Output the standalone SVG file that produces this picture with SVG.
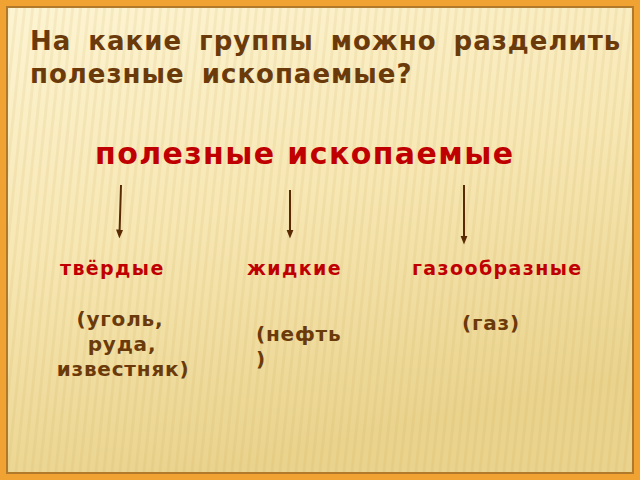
<svg xmlns="http://www.w3.org/2000/svg" width="640" height="480" viewBox="0 0 640 480">
<style>
.t{font-family:"DejaVu Sans","Verdana",sans-serif;font-weight:bold}
.h{fill:#6b3a0a;font-size:26px;letter-spacing:1px;word-spacing:7px}
.r{fill:#c00000;letter-spacing:1.4px}
.b{fill:#6b3a0a;font-size:20px;letter-spacing:0.8px}
.a{stroke:#5a2a05;stroke-width:2;fill:none}
</style>
<defs>
<linearGradient id="bg" x1="0" y1="0" x2="0.3" y2="1">
<stop offset="0" stop-color="#fdf4d2"/>
<stop offset="0.5" stop-color="#f7e7b3"/>
<stop offset="1" stop-color="#ead38d"/>
</linearGradient>
<pattern id="st" width="8" height="480" patternUnits="userSpaceOnUse" patternTransform="skewX(-6)">
<rect x="0" y="0" width="3" height="480" fill="#c9a450" opacity="0.12"/>
</pattern>
<marker id="ah" viewBox="0 0 10 10" refX="5" refY="5" markerWidth="4.5" markerHeight="4.5" orient="auto">
<path d="M0,1 L10,5 L0,9 z" fill="#5a2a05"/>
</marker>
</defs>
<rect x="0" y="0" width="640" height="480" fill="#f0a232"/>
<rect x="6" y="6" width="628" height="468" fill="#b07a2a"/>
<rect x="8" y="8" width="624" height="464" fill="url(#bg)"/>
<rect x="8" y="8" width="624" height="464" fill="url(#st)"/>
<g id="title">
<text class="t h" x="30" y="50">На какие группы можно разделить</text>
<text class="t h" x="30" y="83">полезные ископаемые?</text>
</g>
<g id="root"><text class="t r" x="95" y="164" font-size="30">полезные ископаемые</text></g>
<g id="connectors">
<line class="a" x1="121" y1="185" x2="119.5" y2="234" marker-end="url(#ah)"/>
<line class="a" x1="290" y1="190" x2="290" y2="234" marker-end="url(#ah)"/>
<line class="a" x1="464" y1="185" x2="464" y2="240" marker-end="url(#ah)"/>
</g>
<g id="solid">
<text class="t r" x="60" y="275" font-size="19">твёрдые</text>
<text class="t b" x="120" y="326" text-anchor="middle">(уголь,</text>
<text class="t b" x="122" y="351" text-anchor="middle">руда,</text>
<text class="t b" x="123" y="376" text-anchor="middle">известняк)</text>
</g>
<g id="liquid">
<text class="t r" x="247" y="275" font-size="19">жидкие</text>
<text class="t b" x="256" y="341">(нефть</text>
<text class="t b" x="256" y="366">)</text>
</g>
<g id="gas">
<text class="t r" x="412" y="275" font-size="19">газообразные</text>
<text class="t b" x="462" y="330">(газ)</text>
</g>
</svg>
